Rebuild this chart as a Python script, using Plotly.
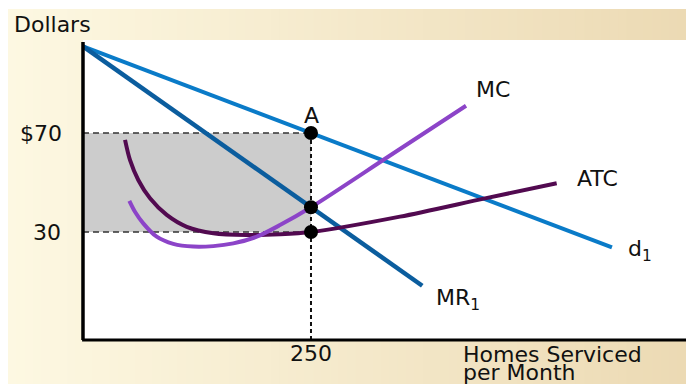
import plotly.graph_objects as go

W, H = 686, 384

# Demand, marginal revenue and cost curves (homes serviced per month, dollars)
demand_q = [0, 580]
demand_p = [105, 23.8]
mr_q = [0, 372]
mr_p = [105, 8.3]
mc_q = [50.8, 57.0, 66.1, 80.8, 99.0, 120.9, 142.9, 164.8, 190.5, 216.0, 250, 335, 420]
mc_p = [42.6, 38.2, 33.5, 28.1, 25.2, 24.1, 24.3, 25.4, 28.1, 32.8, 40, 60.5, 81]
atc_q = [46.1, 51.5, 60.6, 73.5, 91.8, 113.8, 142.9, 179.5, 216.0, 250, 347.6, 440.8, 519.4]
atc_p = [67.2, 59.1, 51.0, 43.6, 36.9, 32.1, 29.5, 28.8, 29.1, 30, 36.2, 43.6, 49.7]

# Profit-maximising output and the prices read at it
q_star = 250
price_star = 70
mr_star = 40
atc_star = 30

tick_prices = ["$70", "30"]
tick_qty = ["250"]

# axis geometry (data units)
X_RANGE = [-91.0, 661.2]
Y_RANGE = [-31.41, 123.74]
AXIS_FLOOR = -13.6
AXIS_TOP = 106.8
AXIS_RIGHT = 661.2

FONT = "DejaVu Sans"
FS = 22
TXT = "#111111"

C_D = "#0a7bc8"
C_MR = "#0b5d9e"
C_MC = "#8c44c8"
C_ATC = "#520a50"


def px(p):
    return p / W


def py(q):
    return 1 - q / H


def mix(c1, c2, t):
    a = [int(c1[i:i + 2], 16) for i in (1, 3, 5)]
    b = [int(c2[i:i + 2], 16) for i in (1, 3, 5)]
    return "#" + "".join(f"{round(a[k] + (b[k] - a[k]) * t):02x}" for k in range(3))


fig = go.Figure()

fig.add_trace(go.Scatter(x=demand_q, y=demand_p, mode="lines",
                         line=dict(color=C_D, width=4), hoverinfo="skip"))
fig.add_trace(go.Scatter(x=mr_q, y=mr_p, mode="lines",
                         line=dict(color=C_MR, width=4.5), hoverinfo="skip"))
fig.add_trace(go.Scatter(x=atc_q, y=atc_p, mode="lines",
                         line=dict(color=C_ATC, width=4, shape="spline", smoothing=0.8),
                         hoverinfo="skip"))
fig.add_trace(go.Scatter(x=mc_q, y=mc_p, mode="lines",
                         line=dict(color=C_MC, width=4, shape="spline", smoothing=0.8),
                         hoverinfo="skip"))
fig.add_trace(go.Scatter(x=[q_star] * 3, y=[price_star, mr_star, atc_star], mode="markers",
                         marker=dict(color="black", size=14), hoverinfo="skip"))

shapes = []
# warm gradient frame behind the chart
n = 80
x_left, x_right = 8, W
for i in range(n):
    a = x_left + (x_right - x_left) * i / n
    b = x_left + (x_right - x_left) * (i + 1) / n + 0.8
    shapes.append(dict(type="rect", xref="paper", yref="paper", layer="below",
                       x0=px(a), x1=px(min(b, W)), y0=py(H), y1=py(9),
                       fillcolor=mix("#fdf8e2", "#ecdab4", i / (n - 1)),
                       line=dict(width=0)))
# white plotting field
shapes.append(dict(type="rect", xref="paper", yref="paper", layer="below",
                   x0=px(83), x1=1, y0=py(340), y1=py(40),
                   fillcolor="white", line=dict(width=0)))
# profit rectangle
shapes.append(dict(type="rect", xref="x", yref="y", layer="below",
                   x0=0, x1=q_star, y0=atc_star, y1=price_star,
                   fillcolor="#cccccc", line=dict(width=0)))
# dashed guides
for p in (price_star, atc_star):
    shapes.append(dict(type="line", xref="x", yref="y", layer="below",
                       x0=0, x1=q_star, y0=p, y1=p,
                       line=dict(color="#333333", width=1.3, dash="6px,4px")))
shapes.append(dict(type="line", xref="x", yref="y", layer="below",
                   x0=q_star, x1=q_star, y0=AXIS_FLOOR, y1=price_star,
                   line=dict(color="#111111", width=2, dash="4px,3px")))
# axes
shapes.append(dict(type="line", xref="x", yref="y", x0=0, x1=0,
                   y0=AXIS_FLOOR, y1=AXIS_TOP, line=dict(color="black", width=3.5)))
shapes.append(dict(type="line", xref="x", yref="y", x0=-1, x1=AXIS_RIGHT,
                   y0=AXIS_FLOOR, y1=AXIS_FLOOR, line=dict(color="black", width=3)))

ann = []


def label(text, x, y, xanchor="center", size=FS):
    # x, y given in screen pixels from the top-left corner
    ann.append(dict(text=text, x=px(x), y=py(y), xref="paper", yref="paper",
                    xanchor=xanchor, yanchor="middle", showarrow=False, align="left",
                    font=dict(family=FONT, size=size, color=TXT)))


label("Dollars", 12, 25, xanchor="left")
label(tick_prices[0], 64, 133, xanchor="right")
label(tick_prices[1], 63, 232, xanchor="right")
label(tick_qty[0], 311, 353)
label("Homes Serviced", 461, 354, xanchor="left")
label("per Month", 461, 372, xanchor="left")
label("A", 311, 115)
label("MC", 493, 89)
label("ATC", 597, 179)
label("d<sub>1</sub>", 626, 250, xanchor="left")
label("MR<sub>1</sub>", 434, 299, xanchor="left")

fig.update_layout(
    width=W, height=H, margin=dict(l=0, r=0, t=0, b=0),
    paper_bgcolor="white", plot_bgcolor="rgba(0,0,0,0)",
    showlegend=False, shapes=shapes, annotations=ann,
    xaxis=dict(range=X_RANGE, visible=False, domain=[0, 1], fixedrange=True),
    yaxis=dict(range=Y_RANGE, visible=False, domain=[0, 1], fixedrange=True),
)

fig.write_html("out.html", config={"displayModeBar": False})
